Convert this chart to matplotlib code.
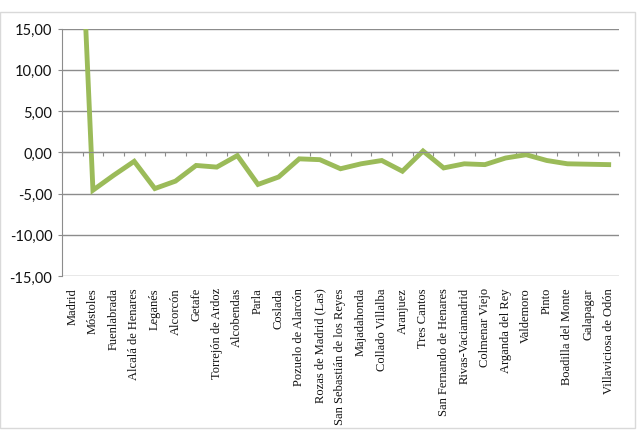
import matplotlib.pyplot as plt
from matplotlib.patches import Rectangle

municipios = ["Madrid", "Móstoles", "Fuenlabrada", "Alcalá de Henares", "Leganés",
              "Alcorcón", "Getafe", "Torrejón de Ardoz", "Alcobendas", "Parla",
              "Coslada", "Pozuelo de Alarcón", "Rozas de Madrid (Las)",
              "San Sebastián de los Reyes", "Majadahonda", "Collado Villalba",
              "Aranjuez", "Tres Cantos", "San Fernando de Henares",
              "Rivas-Vaciamadrid", "Colmenar Viejo", "Arganda del Rey",
              "Valdemoro", "Pinto", "Boadilla del Monte", "Galapagar",
              "Villaviciosa de Odón"]
valores = [52.0, -4.6, -2.8, -1.1, -4.4, -3.5, -1.6, -1.8, -0.4, -3.9,
           -3.0, -0.8, -0.9, -2.0, -1.4, -1.0, -2.3, 0.15, -1.9,
           -1.4, -1.5, -0.7, -0.3, -1.0, -1.4, -1.45, -1.5]
yticks = [-15, -10, -5, 0, 5, 10, 15]

fig = plt.figure(figsize=(6.38, 4.35), dpi=100)
# chart area border
fig.patches.append(Rectangle((0.0, 6 / 435), 635 / 638, 416 / 435,
                             transform=fig.transFigure, fill=False,
                             edgecolor="#d9d9d9", linewidth=1))

ax = fig.add_axes([62 / 638, 1 - 277 / 435, 557 / 638, 247.5 / 435])
n = len(municipios)
x = list(range(n))

ax.set_xlim(-0.5, n - 0.5)
ax.set_ylim(-15, 15)
ax.set_yticks(yticks)
ax.set_yticklabels([f"{v:.2f}".replace(".", ",") for v in yticks],
                   fontsize=10.5, family="Lato", color="#111111")
ax.yaxis.grid(True, color="#8c8c8c", linewidth=1)
ax.set_axisbelow(True)
ax.tick_params(axis="y", length=3, color="#8c8c8c", pad=4)

for side in ["top", "right", "bottom"]:
    ax.spines[side].set_visible(False)
ax.spines["left"].set_color("#8c8c8c")

ax.set_xticks(x)
ax.set_xticklabels(municipios, rotation=90, fontsize=9, family="Liberation Serif",
                   color="#111111")
ax.tick_params(axis="x", length=0, pad=8)

# category axis crossing at zero
ax2 = ax.twiny()
ax2.set_xlim(ax.get_xlim())
for side in ["top", "right", "left"]:
    ax2.spines[side].set_visible(False)
ax2.spines["bottom"].set_position(("data", 0))
ax2.spines["bottom"].set_color("#8c8c8c")
ax2.xaxis.set_ticks_position("bottom")
ax2.set_xticks([i - 0.5 for i in range(n + 1)])
ax2.set_xticklabels([])
ax2.tick_params(axis="x", length=3, color="#8c8c8c", direction="out")

ax2.plot(x, valores, color="#9bbb59", linewidth=3.5, solid_joinstyle="miter")

fig.savefig("out.png", dpi=100)
